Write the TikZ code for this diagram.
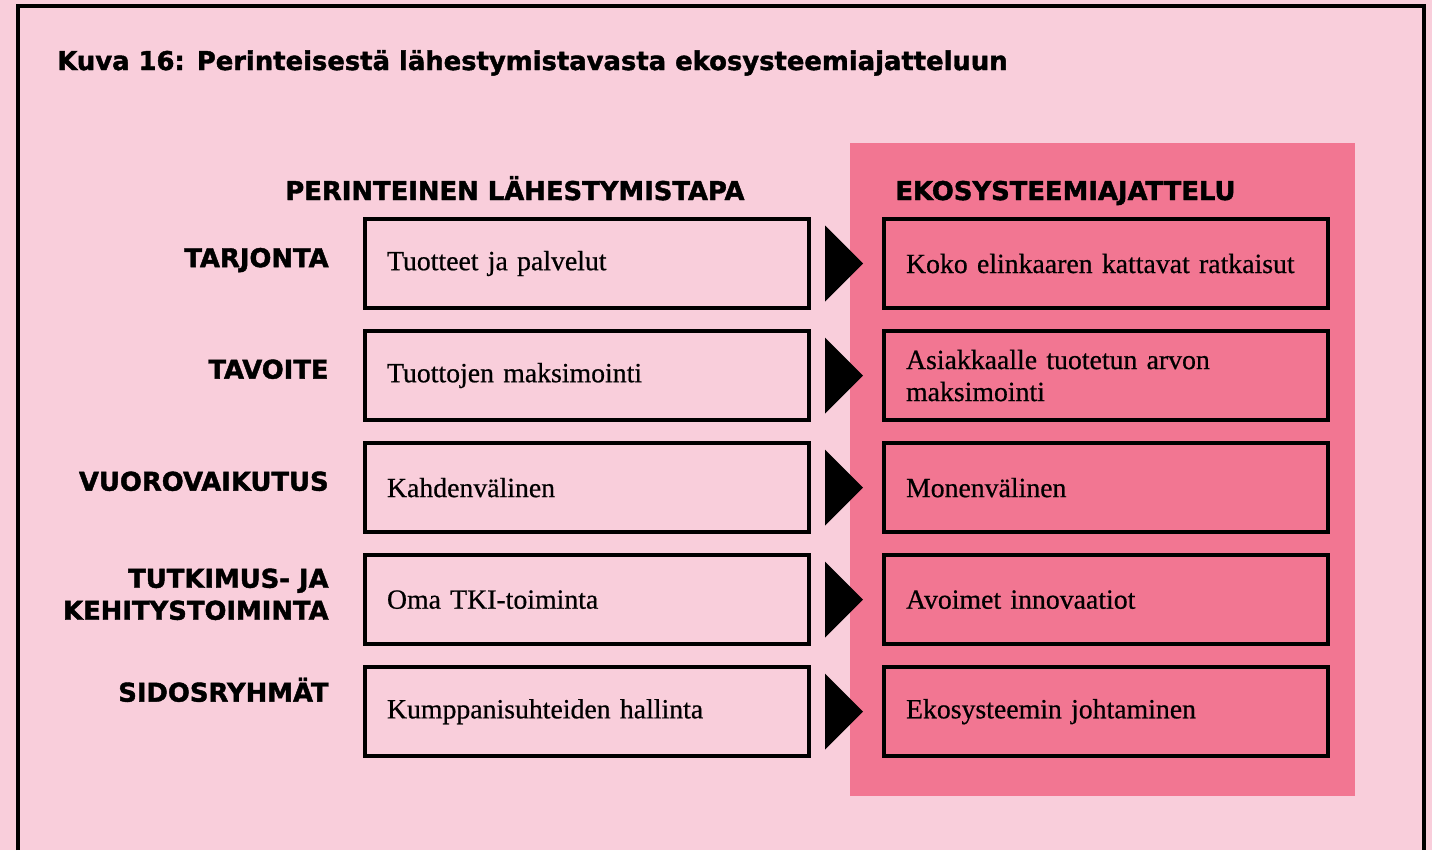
\documentclass[tikz,border=0pt]{standalone}
\usepackage{fontspec}
\setmainfont{Liberation Serif}[FakeBold=0.5]
\newfontfamily\headfont{DejaVu Sans}[BoldFeatures={FakeBold=1.6}]
\newfontfamily\boxfont{Liberation Serif}[FakeBold=0.6]
\usepackage{tikz}
\usetikzlibrary{positioning}
\definecolor{bgpink}{RGB}{249,206,219}
\definecolor{panelpink}{RGB}{242,118,146}
\tikzstyle{oldbox} = [rectangle, minimum width=8.88cm, minimum height=1.78cm, text width=8cm, inner sep=0pt, align=left, draw=black, line width=2.3pt, fill=bgpink, font=\boxfont\fontsize{15.8}{18.2}\selectfont]
\tikzstyle{newbox} = [oldbox, fill=panelpink]
\tikzstyle{rowlabel} = [align=right, inner sep=0pt, text depth=0pt, font=\headfont\bfseries\fontsize{14.7}{18.2}\selectfont]
\tikzstyle{heading} = [inner sep=0pt, anchor=base west, font=\headfont\bfseries\fontsize{14.7}{18}\selectfont]
\begin{document}
\begin{tikzpicture}[node distance=0.38cm]
% background, panel and frame
\fill[bgpink] (0,0) rectangle (28.64,-17);
\fill[panelpink] (17,-2.86) rectangle (27.1,-15.92);
\draw[line width=2.3pt] (0.36,-17) -- (0.36,-0.12) -- (28.48,-0.12) -- (28.48,-17);
\node (title) [heading] at (1.14,-1.4) {Kuva 16: Perinteisestä lähestymistavasta ekosysteemiajatteluun};
\node (oldhead) [heading] at (5.7,-4.0) {PERINTEINEN LÄHESTYMISTAPA};
\node (newhead) [heading] at (17.9,-4.0) {EKOSYSTEEMIAJATTELU};
% left column
\node (old1) [oldbox] at (11.74,-5.27) {Tuotteet ja palvelut};
\node (old2) [oldbox, below=of old1] {Tuottojen maksimointi};
\node (old3) [oldbox, below=of old2] {Kahdenvälinen};
\node (old4) [oldbox, below=of old3] {Oma TKI-toiminta};
\node (old5) [oldbox, below=of old4] {Kumppanisuhteiden hallinta};
% right column
\node (new1) [newbox, right=1.42cm of old1] {Koko elinkaaren kattavat ratkaisut};
\node (new2) [newbox, right=1.42cm of old2] {Asiakkaalle tuotetun arvon\\maksimointi};
\node (new3) [newbox, right=1.42cm of old3] {Monenvälinen};
\node (new4) [newbox, right=1.42cm of old4] {Avoimet innovaatiot};
\node (new5) [newbox, right=1.42cm of old5] {Ekosysteemin johtaminen};
% row labels
\node (lab1) [rowlabel, left=0.68cm of old1, yshift=0.12cm] {TARJONTA};
\node (lab2) [rowlabel, left=0.68cm of old2, yshift=0.13cm] {TAVOITE};
\node (lab3) [rowlabel, left=0.68cm of old3, yshift=0.13cm] {VUOROVAIKUTUS};
\node (lab4) [rowlabel, left=0.68cm of old4, yshift=0.11cm] {TUTKIMUS- JA\\KEHITYSTOIMINTA};
\node (lab5) [rowlabel, left=0.68cm of old5, yshift=0.44cm] {SIDOSRYHMÄT};
% arrow heads between the columns
\foreach \i in {1,...,5}
  \fill ([xshift=0.28cm, yshift=0.76cm]old\i.east) -- ([xshift=1.04cm]old\i.east) -- ([xshift=0.28cm, yshift=-0.76cm]old\i.east) -- cycle;
\end{tikzpicture}
\end{document}
